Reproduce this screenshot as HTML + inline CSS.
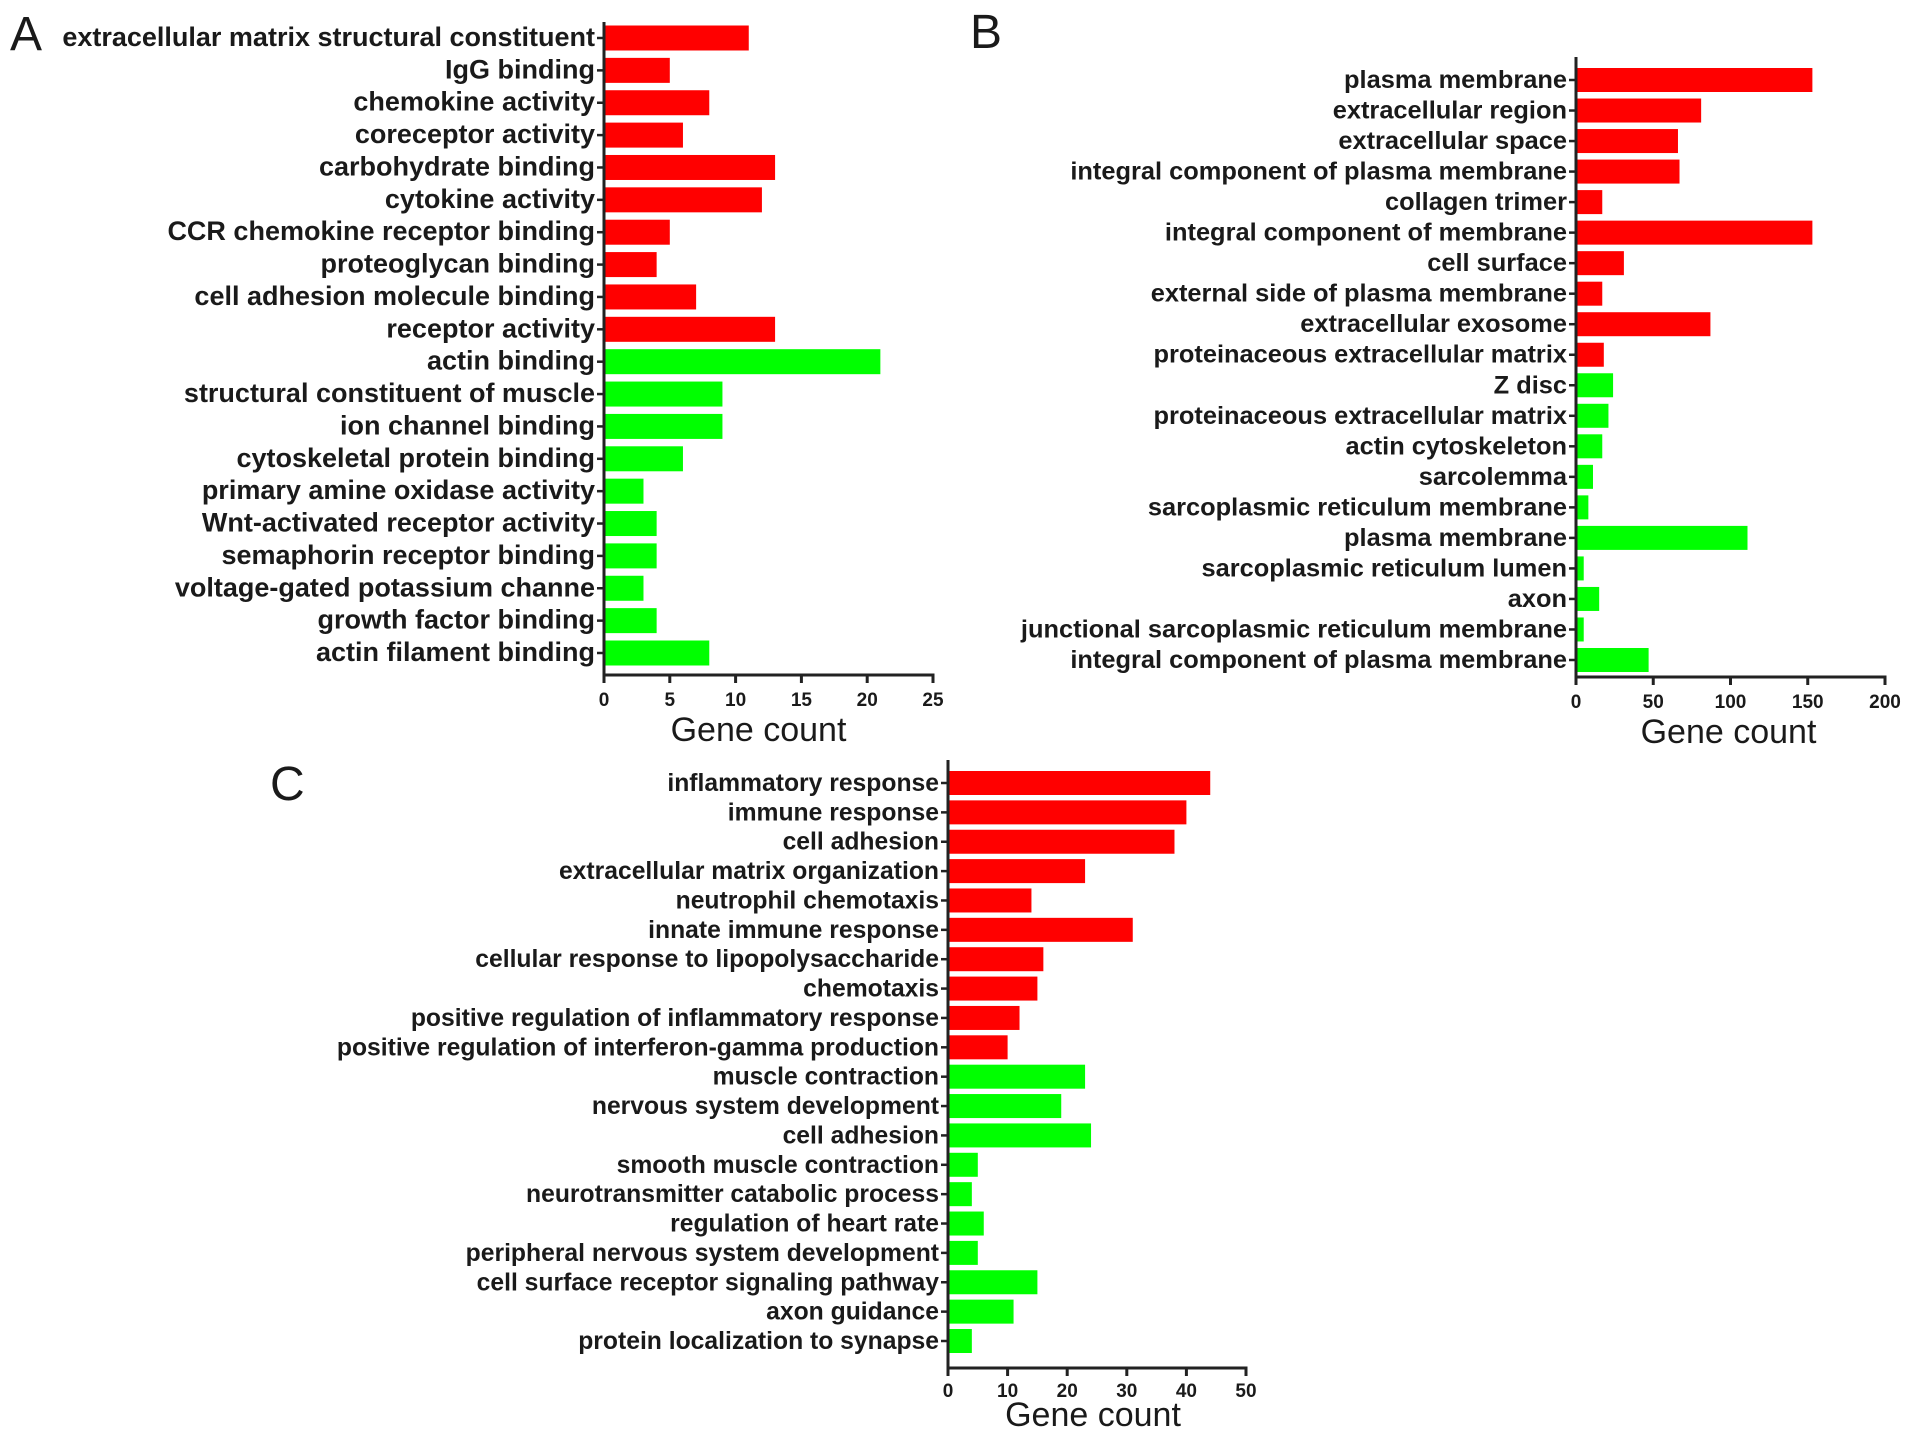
<!DOCTYPE html>
<html><head><meta charset="utf-8"><style>
html,body{margin:0;padding:0;background:#fff}
svg{display:block}
text{font-family:"Liberation Sans",Arial,sans-serif;fill:#1a1a1a}
.lab{font-weight:bold}
.tick{font-weight:bold;font-size:19px}
.title{font-size:34px}
.panel{font-size:48px}
</style></head><body>
<svg id="chart" width="1913" height="1441" viewBox="0 0 1913 1441" xmlns="http://www.w3.org/2000/svg"></svg>
<script>
const catsA=["extracellular matrix structural constituent","IgG binding","chemokine activity","coreceptor activity","carbohydrate binding","cytokine activity","CCR chemokine receptor binding","proteoglycan binding","cell adhesion molecule binding","receptor activity","actin binding","structural constituent of muscle","ion channel binding","cytoskeletal protein binding","primary amine oxidase activity","Wnt-activated receptor activity","semaphorin receptor binding","voltage-gated potassium channe","growth factor binding","actin filament binding"];
const valsA=[11,5,8,6,13,12,5,4,7,13,21,9,9,6,3,4,4,3,4,8];
const ticksA=[0,5,10,15,20,25];
const catsB=["plasma membrane","extracellular region","extracellular space","integral component of plasma membrane","collagen trimer","integral component of membrane","cell surface","external side of plasma membrane","extracellular exosome","proteinaceous extracellular matrix","Z disc","proteinaceous extracellular matrix","actin cytoskeleton","sarcolemma","sarcoplasmic reticulum membrane","plasma membrane","sarcoplasmic reticulum lumen","axon","junctional sarcoplasmic reticulum membrane","integral component of plasma membrane"];
const valsB=[153,81,66,67,17,153,31,17,87,18,24,21,17,11,8,111,5,15,5,47];
const ticksB=[0,50,100,150,200];
const catsC=["inflammatory response","immune response","cell adhesion","extracellular matrix organization","neutrophil chemotaxis","innate immune response","cellular response to lipopolysaccharide","chemotaxis","positive regulation of inflammatory response","positive regulation of interferon-gamma production","muscle contraction","nervous system development","cell adhesion","smooth muscle contraction","neurotransmitter catabolic process","regulation of heart rate","peripheral nervous system development","cell surface receptor signaling pathway","axon guidance","protein localization to synapse"];
const valsC=[44,40,38,23,14,31,16,15,12,10,23,19,24,5,4,6,5,15,11,4];
const ticksC=[0,10,20,30,40,50];

const NS="http://www.w3.org/2000/svg";
const svg=document.getElementById('chart');
function mk(tag,attrs,parent){const e=document.createElementNS(NS,tag);for(const k in attrs)e.setAttribute(k,attrs[k]);(parent||svg).appendChild(e);return e;}

function panel(id,cats,vals,ticks,cfg){
  const g=mk('g',{});
  
  
  const max=ticks[ticks.length-1];
  const x=v=>cfg.x0+(v/max)*(cfg.x1-cfg.x0);
  const y=i=>cfg.yFirst+i*(cfg.yLast-cfg.yFirst)/(cats.length-1);
  const lt=mk('text',{x:cfg.lx,y:cfg.ly,class:'panel'},g);lt.textContent=id;
  
  
  cats.forEach((c,i)=>{
    const r=mk('rect',{x:x(0),y:y(i)-cfg.bh/2,width:x(vals[i])-x(0),height:cfg.bh,fill:i<10?'#ff0000':'#00ff00'},g);
    
    
    mk('line',{x1:x(0)-7,x2:x(0),y1:y(i),y2:y(i),stroke:'#222','stroke-width':2.5},g);
    const t=mk('text',{x:x(0)-9,y:y(i)+8,'text-anchor':'end',class:'lab','font-size':cfg.fs},g);
    t.textContent=c;
    
    
  });
  const ax=mk('line',{x1:x(0),x2:x(0),y1:cfg.top,y2:cfg.bottom+8,stroke:'#222','stroke-width':3},g);
  
  
  const xa=mk('line',{x1:x(0)-1.5,x2:x(max)+1.5,y1:cfg.bottom,y2:cfg.bottom,stroke:'#222','stroke-width':3},g);
  
  
  ticks.forEach(v=>{
    mk('line',{x1:x(v),x2:x(v),y1:cfg.bottom,y2:cfg.bottom+8,stroke:'#222','stroke-width':3},g);
    const t=mk('text',{x:x(v),y:cfg.bottom+cfg.tdy,'text-anchor':'middle',class:'tick'},g);
    t.textContent=v;
    
    
  });
  const tt=mk('text',{x:(x(0)+x(max))/2+cfg.tdx,y:cfg.bottom+cfg.ttdy,'text-anchor':'middle',class:'title'},g);
  tt.textContent='Gene count';
  
  
}
panel('A',catsA,valsA,ticksA,{x0:604,x1:933,yFirst:38,yLast:653,bh:25,top:22,bottom:675,lx:10,ly:50,fs:27,tdy:31,ttdy:66,tdx:-10});
panel('B',catsB,valsB,ticksB,{x0:1576,x1:1885,yFirst:80,yLast:660,bh:24,top:57,bottom:677,lx:970,ly:48,fs:25.4,tdy:31,ttdy:66,tdx:-2});
panel('C',catsC,valsC,ticksC,{x0:948,x1:1246,yFirst:783,yLast:1341,bh:24,top:760,bottom:1368,lx:270,ly:800,fs:24.7,tdy:29,ttdy:58,tdx:-4});
</script>
</body></html>
